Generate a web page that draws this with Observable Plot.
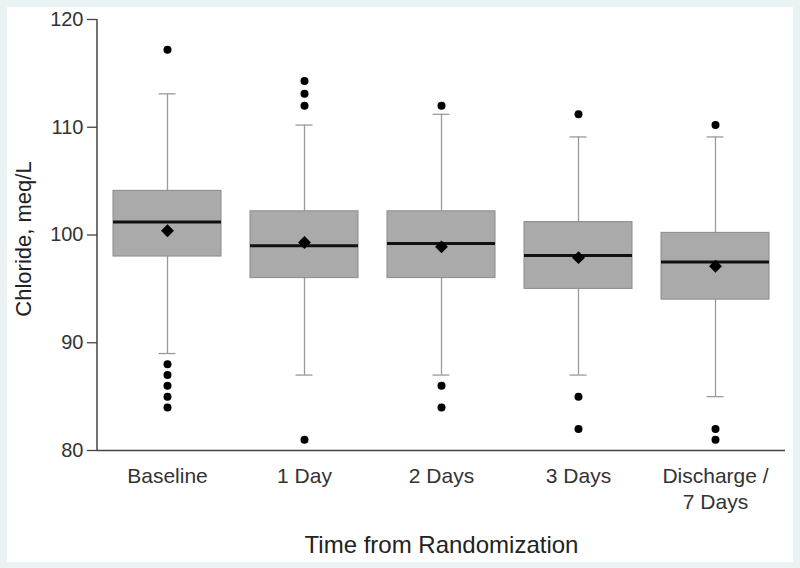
<!DOCTYPE html>
<html>
<head>
<meta charset="utf-8">
<script src="https://cdn.jsdelivr.net/npm/d3@7"></script>
<script src="https://cdn.jsdelivr.net/npm/@observablehq/plot@0.6"></script>
<style>
  html, body { margin: 0; padding: 0; background: #ebf2f4; }
  #frame { position: absolute; left: 7px; top: 7px; width: 786px; height: 555px; background: #ffffff; }
  #chart { position: absolute; left: 0; top: 0; }
</style>
</head>
<body>
<div id="frame"></div>
<div id="chart"></div>
<script>
const categories = ["Baseline", "1 Day", "2 Days", "3 Days", "Discharge /\n7 Days"];
const whiskerLow  = [89, 87, 87, 87, 85];
const q1          = [98, 96, 96, 95, 94];
const median      = [101.2, 99.0, 99.2, 98.1, 97.5];
const q3          = [104.1, 102.2, 102.2, 101.2, 100.2];
const whiskerHigh = [113.1, 110.2, 111.2, 109.1, 109.1];
const means       = [100.4, 99.3, 98.9, 97.9, 97.1];
const outliers    = [
  [117.2, 88, 87, 86, 85, 84],
  [114.3, 113.1, 112, 81],
  [112, 86, 84],
  [111.2, 85, 82],
  [110.2, 82, 81]
];
const yTicks = [80, 90, 100, 110, 120];
const yTitle = "Chloride, meq/L";
const xTitle = "Time from Randomization";

const boxes = categories.map((c, i) => ({
  cat: c, lo: whiskerLow[i], q1: q1[i], med: median[i], q3: q3[i], hi: whiskerHigh[i], mean: means[i]
}));
const outlierPts = outliers.flatMap((arr, i) => arr.map(v => ({cat: categories[i], v})));

const font = "'Liberation Sans', Arial, Helvetica, sans-serif";

const chart = Plot.plot({
  width: 800,
  height: 568,
  marginLeft: 97,
  marginRight: 15,
  marginTop: 19,
  marginBottom: 118,
  style: {fontFamily: font, background: "transparent", color: "#333"},
  x: {domain: categories, paddingInner: 0.21, paddingOuter: 0.105, label: null},
  y: {domain: [80, 120], label: null},
  marks: [
    Plot.ruleX(boxes, {x: "cat", y1: "lo", y2: "hi", stroke: "#9a9a9a", strokeWidth: 1.3}),
    Plot.tickY(boxes, {x: "cat", y: "lo", stroke: "#9a9a9a", strokeWidth: 1.3, insetLeft: 45.5, insetRight: 45.5}),
    Plot.tickY(boxes, {x: "cat", y: "hi", stroke: "#9a9a9a", strokeWidth: 1.3, insetLeft: 45.5, insetRight: 45.5}),
    Plot.barY(boxes, {x: "cat", y1: "q1", y2: "q3", fill: "#aaaaaa", stroke: "#8a8a8a", strokeWidth: 1}),
    Plot.tickY(boxes, {x: "cat", y: "med", stroke: "#111", strokeWidth: 3}),
    Plot.dot(boxes, {x: "cat", y: "mean", symbol: "diamond2", r: 5.8, fill: "#000", stroke: "none"}),
    Plot.dot(outlierPts, {x: "cat", y: "v", r: 4, fill: "#000", stroke: "none"}),
    Plot.axisY({ticks: yTicks, tickSize: 10, tickPadding: 4, fontSize: 20, stroke: "#444", strokeWidth: 1.3, color: "#333", label: null}),
    Plot.axisX({tickSize: 0, tickPadding: 14, fontSize: 21, lineHeight: 1.24, color: "#333", label: null}),
    Plot.ruleY([80], {stroke: "#444", strokeWidth: 1.5}),
    Plot.text([xTitle], {frameAnchor: "bottom", dy: 102, lineAnchor: "bottom", textAnchor: "middle", fontSize: 24, fill: "#222"}),
    Plot.text([yTitle], {frameAnchor: "left", dx: -67, dy: 4, rotate: -90, lineAnchor: "bottom", textAnchor: "middle", fontSize: 22, fill: "#222"})
  ]
});
document.getElementById("chart").appendChild(chart);

// left axis line, drawn from the library's own scales
const ys = chart.scale("y"), xs = chart.scale("x");
const xLeft = xs.range[0];
d3.select(chart).append("line")
  .attr("x1", xLeft).attr("x2", xLeft)
  .attr("y1", ys.range[0]).attr("y2", ys.range[1])
  .attr("stroke", "#444").attr("stroke-width", 1.5);
</script>
</body>
</html>
